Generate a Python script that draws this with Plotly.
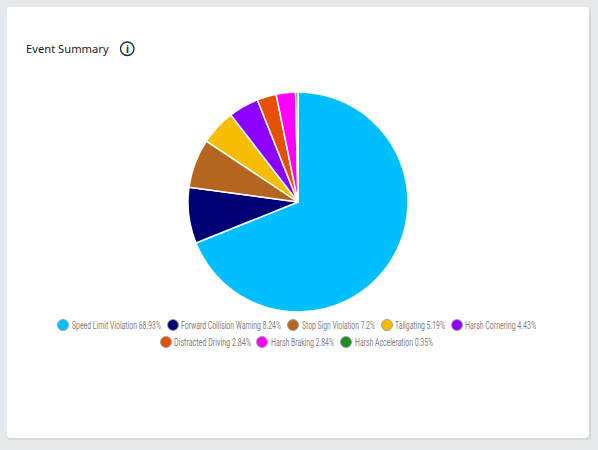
import plotly.graph_objects as go

W, H = 598, 450
categories = ["Speed Limit Violation", "Forward Collision Warning", "Stop Sign Violation", "Tailgating",
              "Harsh Cornering", "Distracted Driving", "Harsh Braking", "Harsh Acceleration"]
values = [68.93, 8.24, 7.2, 5.19, 4.43, 2.84, 2.84, 0.35]
colors = ["#00bfff", "#000075", "#b5651d", "#f7bd00", "#8b00ff", "#e65100", "#ff00ff", "#228b22"]

# Legend layout in page pixels: marker centre x, text left, text right, row centre y
legend_marker_x = [63, 173, 293, 387, 457, 166, 262, 346]
legend_text_x0 = [72, 181, 302, 395, 465, 174, 271, 355]
legend_text_x1 = [161, 281, 375, 445, 536, 251, 334, 433]
legend_y = [325, 325, 325, 325, 325, 342, 342, 342]


def px(x):
    return x / W


def py(y):
    return 1 - y / H


def card(x0, y0, x1, y1, r, fill):
    path = (f"M {px(x0 + r)} {py(y0)} L {px(x1 - r)} {py(y0)} L {px(x1)} {py(y0 + r)} "
            f"L {px(x1)} {py(y1 - r)} L {px(x1 - r)} {py(y1)} L {px(x0 + r)} {py(y1)} "
            f"L {px(x0)} {py(y1 - r)} L {px(x0)} {py(y0 + r)} Z")
    return dict(type="path", xref="paper", yref="paper", layer="below", line=dict(width=0),
                fillcolor=fill, path=path)


fig = go.Figure()
fig.add_trace(go.Pie(labels=categories, values=values, sort=False, direction="clockwise", rotation=0,
                     marker=dict(colors=colors, line=dict(color="white", width=1.5)),
                     textinfo="none", showlegend=False, hoverinfo="label+percent",
                     domain=dict(x=[px(188), px(408)], y=[py(312), py(92)])))

shapes = [
    card(7, 8, 591, 440, 2, "#d5d8db"),
    card(7, 7, 589, 438, 2, "white"),
    dict(type="circle", xref="paper", yref="paper", line=dict(color="#1f2a44", width=1.3),
         fillcolor="rgba(0,0,0,0)", x0=px(120.5), x1=px(134), y0=py(55.5), y1=py(42)),
]
annotations = [
    dict(text="Event Summary", xref="paper", yref="paper", x=px(24), y=py(48), xanchor="left", yanchor="middle",
         showarrow=False, font=dict(family="Noto Sans", size=11.2, color="#222222")),
    dict(text="<b>i</b>", xref="paper", yref="paper", x=px(127.3), y=py(49), xanchor="center", yanchor="middle",
         showarrow=False, font=dict(family="Noto Sans", size=10, color="#1f2a44")),
]
text_widths = {}
for c, v, col, mx, t0, t1, y in zip(categories, values, colors, legend_marker_x,
                                    legend_text_x0, legend_text_x1, legend_y):
    label = f"{c} {v:g}%"
    text_widths[label] = t1 - t0
    shapes.append(dict(type="circle", xref="paper", yref="paper", fillcolor=col,
                       line=dict(color="#a0a0a0", width=1),
                       x0=px(mx - 5.5), x1=px(mx + 5.5), y0=py(y + 5.5), y1=py(y - 5.5)))
    annotations.append(dict(text=label, xref="paper", yref="paper", x=px((t0 + t1) / 2), y=py(y),
                            xanchor="center", yanchor="middle", showarrow=False,
                            width=t1 - t0, borderpad=0, borderwidth=0,
                            font=dict(family="Roboto", size=10, color="#7f7f7f")))

fig.update_layout(width=W, height=H, margin=dict(l=0, r=0, t=0, b=0), autosize=False,
                  paper_bgcolor="#e6e9ec", shapes=shapes, annotations=annotations)

# The reference uses a condensed face; squeeze the installed one to the same text widths.
fit = ";".join(
    f"document.querySelectorAll('.annotation-text').forEach(function(t){{"
    f"if(t.textContent==={label!r}){{t.setAttribute('textLength','{w}');"
    f"t.setAttribute('lengthAdjust','spacingAndGlyphs');}}}})"
    for label, w in text_widths.items()
)
post = "document.body.style.margin='0';document.body.style.overflow='hidden';" + fit
fig.write_html("out.html", config=dict(displayModeBar=False), post_script=post)
